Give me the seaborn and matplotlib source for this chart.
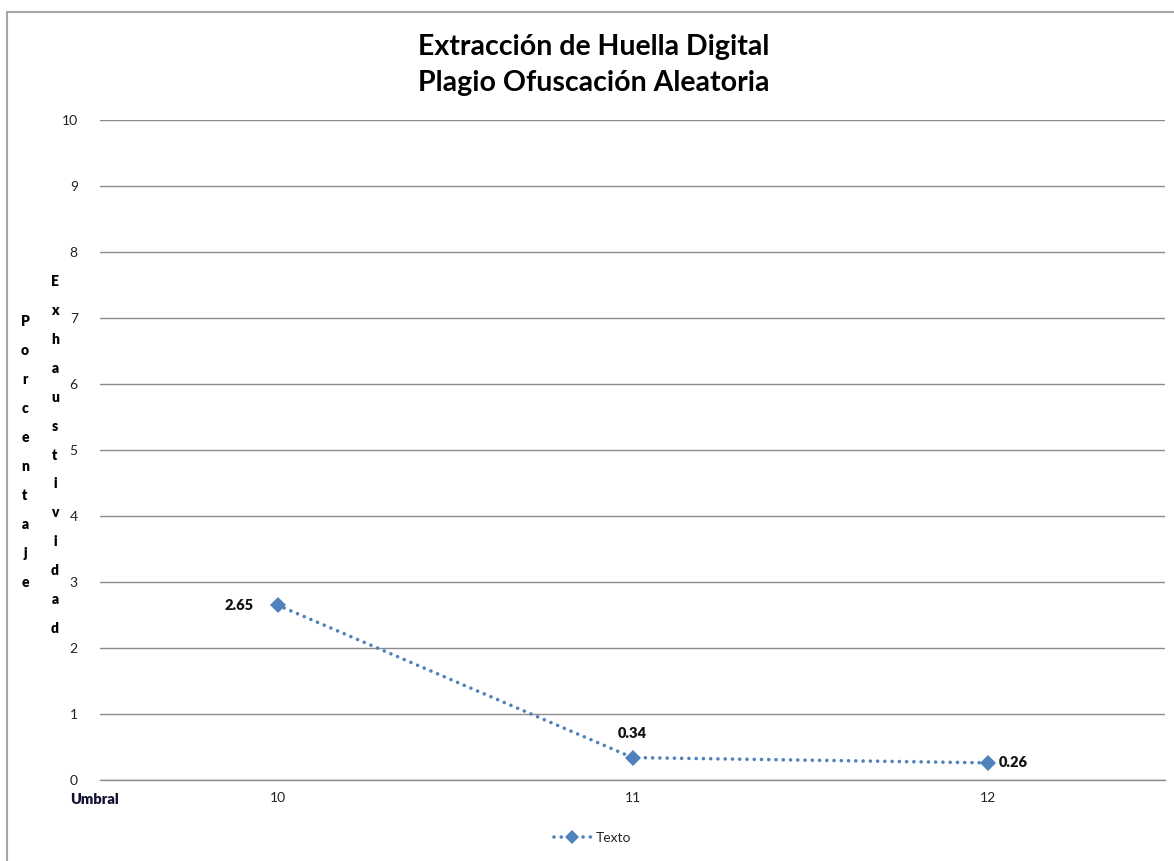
import matplotlib
matplotlib.use("Agg")
import matplotlib.pyplot as plt
import seaborn as sns
import pandas as pd
from matplotlib.patches import Rectangle
from matplotlib.lines import Line2D

categories = ["10", "11", "12"]
values = [2.65, 0.34, 0.26]
value_labels = ["2.65", "0.34", "0.26"]
series_name = "Texto"
yticks = list(range(0, 11))

sns.set_theme(style="white")
plt.rcParams['font.family'] = ['Lato', 'DejaVu Sans']

df = pd.DataFrame({"Umbral": categories, "valor": values, "serie": series_name})

fig = plt.figure(figsize=(11.74, 8.61), dpi=100)
ax = fig.add_axes([100/1174, 1-780/861, 1065/1174, 660/861])

color = "#4F81BD"
dots = (0, (0.01, 2.0))
sns.lineplot(data=df, x="Umbral", y="valor", ax=ax, color=color, linestyle=dots,
             linewidth=2.6, marker="D", markersize=8, markeredgewidth=0, legend=False,
             dash_capstyle="round")

ax.set_xlim(-0.5, 2.5)
ax.set_ylim(0, 10)
ax.set_yticks(yticks)
ax.set_yticklabels([str(t) for t in yticks])
ax.yaxis.grid(True, color="#8c8c8c", linewidth=1)
ax.xaxis.grid(False)
for s in ["top", "right", "left"]:
    ax.spines[s].set_visible(False)
ax.spines["bottom"].set_color("#8c8c8c")
ax.spines["bottom"].set_linewidth(1)
ax.tick_params(axis="y", length=0, pad=16, labelsize=10, labelcolor="#222222")
ax.tick_params(axis="x", length=0, pad=9, labelsize=10, labelcolor="#222222")
ax.set_xlabel("")
ax.set_ylabel("")

# data labels
offsets = [(-17, 0, "right", "center"), (0, 13, "center", "bottom"), (8, 0, "left", "center")]
for i, (v, lab) in enumerate(zip(values, value_labels)):
    dx, dy, ha, va = offsets[i]
    ax.annotate(lab, (i, v), xytext=(dx, dy), textcoords="offset points",
                ha=ha, va=va, fontsize=10.5, fontweight="heavy", color="#111111")

# title
fig.text(594/1174, 1-65/861, "Extracción de Huella Digital\nPlagio Ofuscación Aleatoria",
         ha="center", va="center", fontsize=20.5, fontweight="bold", color="black",
         linespacing=1.45)

# vertical stacked y labels
fig.text(25/1174, 1-452/861, "\n".join("Porcentaje"), ha="center", va="center",
         fontsize=10, fontweight="heavy", color="black", linespacing=2.45)
fig.text(55/1174, 1-455/861, "\n".join("Exhaustividad"), ha="center", va="center",
         fontsize=10, fontweight="heavy", color="black", linespacing=2.45)

# x label
fig.text(70/1174, 1-800/861, "Umbral", ha="left", va="center",
         fontsize=10.5, fontweight="heavy", color="#111133")

# legend
handle = Line2D([0], [0], color=color, linestyle=dots, linewidth=2.6, marker="D",
                markersize=7, markeredgewidth=0, dash_capstyle="round")
fig.legend([handle], [series_name], loc="center", bbox_to_anchor=(593/1174, 1-838/861),
           frameon=False, fontsize=10, handlelength=2.6, handletextpad=0.4)

# chart border
fig.patches.append(Rectangle((7/1174, -0.1), 1.2, 1-12/861+0.1, transform=fig.transFigure,
                             fill=False, edgecolor="#a6a6a6", linewidth=1.5))

fig.savefig("out.png", dpi=100)
